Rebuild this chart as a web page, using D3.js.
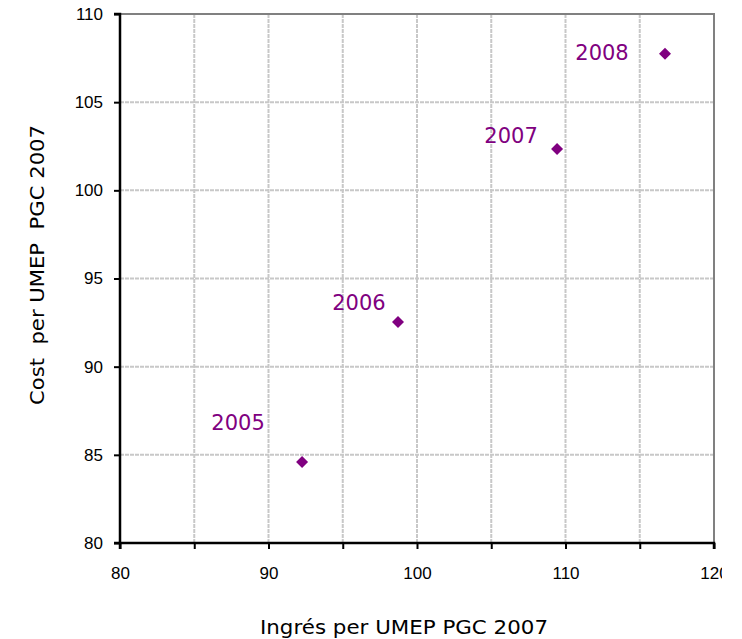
<!DOCTYPE html>
<html><head><meta charset="utf-8">
<script src="https://cdn.jsdelivr.net/npm/d3@7"></script>
<style>body{margin:0;background:#fff}</style>
</head><body>
<svg id="c" width="742" height="639"></svg>
<script>
const years = ["2005", "2006", "2007", "2008"];
const ingres = [92.26, 98.72, 109.43, 116.7];
const cost = [84.6, 92.53, 102.35, 107.74];
const xTicks = [80, 85, 90, 95, 100, 105, 110, 115, 120];
const xTickLabels = ["80", "", "90", "", "100", "", "110", "", "120"];
const yTicks = [80, 85, 90, 95, 100, 105, 110];
const xTitle = "Ingrés per UMEP PGC 2007";
const yTitle = "Cost  per UMEP  PGC 2007";

const svg = d3.select("#c");
const L = 120, R = 714, T = 14, B = 543;
const x = d3.scaleLinear().domain([80, 120]).range([L, R]);
const y = d3.scaleLinear().domain([80, 110]).range([B, T]);

svg.append("defs").append("clipPath").attr("id", "clip")
  .append("rect").attr("x", 0).attr("y", 0).attr("width", 722).attr("height", 639);
const g = svg.append("g").attr("clip-path", "url(#clip)");

// grid
g.append("g").selectAll("line").data(xTicks.filter(v => v > 80 && v < 120)).join("line")
  .attr("x1", d => x(d)).attr("x2", d => x(d)).attr("y1", T).attr("y2", B)
  .attr("stroke", "#c8c8c8").attr("stroke-width", 2).attr("stroke-dasharray", "4,1");
g.append("g").selectAll("line").data(yTicks.filter(v => v > 80 && v < 110)).join("line")
  .attr("y1", d => y(d)).attr("y2", d => y(d)).attr("x1", L).attr("x2", R)
  .attr("stroke", "#c8c8c8").attr("stroke-width", 2).attr("stroke-dasharray", "4,1");
// top/right border
g.append("path").attr("d", `M${L},${T}H${R}V${B}`).attr("fill", "none")
  .attr("stroke", "#808080").attr("stroke-width", 2);

// axes
const xAxis = d3.axisBottom(x).tickValues(xTicks).tickFormat((d, i) => xTickLabels[i]).tickSize(6).tickPadding(18);
const yAxis = d3.axisLeft(y).tickValues(yTicks).tickFormat(d3.format("d")).tickSize(6).tickPadding(11);
const gx = g.append("g").attr("transform", `translate(0,${B})`).call(xAxis);
const gy = g.append("g").attr("transform", `translate(${L},0)`).call(yAxis);
[gx, gy].forEach(a => {
  a.select(".domain").attr("stroke", "#000").attr("stroke-width", 2.5);
  a.selectAll(".tick line").attr("stroke", "#000").attr("stroke-width", 2);
  a.selectAll(".tick text").attr("font-family", "Liberation Sans, Arial, sans-serif")
    .attr("font-size", 17).attr("fill", "#000");
});
gx.select(".domain").attr("d", `M${L},6V0H${R}V6`);
gy.select(".domain").attr("d", `M-6,${T}H0V${B}H-6`);

// points
const pts = years.map((yr, i) => ({yr, xv: ingres[i], yv: cost[i]}));
g.append("g").selectAll("path").data(pts).join("path")
  .attr("transform", d => `translate(${x(d.xv)},${y(d.yv)})`)
  .attr("d", "M0,-6L6,0L0,6L-6,0Z").attr("fill", "#800080");

// labels
const off = [[-64, -39], [-39, -19], [-46, -13], [-63, -1]];
g.append("g").selectAll("text").data(pts).join("text")
  .attr("x", (d, i) => x(d.xv) + off[i][0]).attr("y", (d, i) => y(d.yv) + off[i][1])
  .attr("text-anchor", "middle").attr("dominant-baseline", "central")
  .attr("font-family", "DejaVu Sans, Verdana, sans-serif").attr("font-size", 21)
  .attr("fill", "#800080").text(d => d.yr);

// titles
svg.append("text").attr("x", 404).attr("y", 627).attr("text-anchor", "middle")
  .attr("dominant-baseline", "central")
  .attr("textLength", 288).attr("lengthAdjust", "spacingAndGlyphs")
  .attr("font-family", "DejaVu Sans, Verdana, sans-serif").attr("font-size", 20).attr("fill", "#000")
  .text(xTitle);
svg.append("text").attr("transform", "translate(37,265) rotate(-90)").attr("text-anchor", "middle")
  .attr("dominant-baseline", "central").attr("xml:space", "preserve").style("white-space", "pre")
  .attr("textLength", 280).attr("lengthAdjust", "spacingAndGlyphs")
  .attr("font-family", "DejaVu Sans, Verdana, sans-serif").attr("font-size", 20).attr("fill", "#000")
  .text(yTitle);
</script>
</body></html>
